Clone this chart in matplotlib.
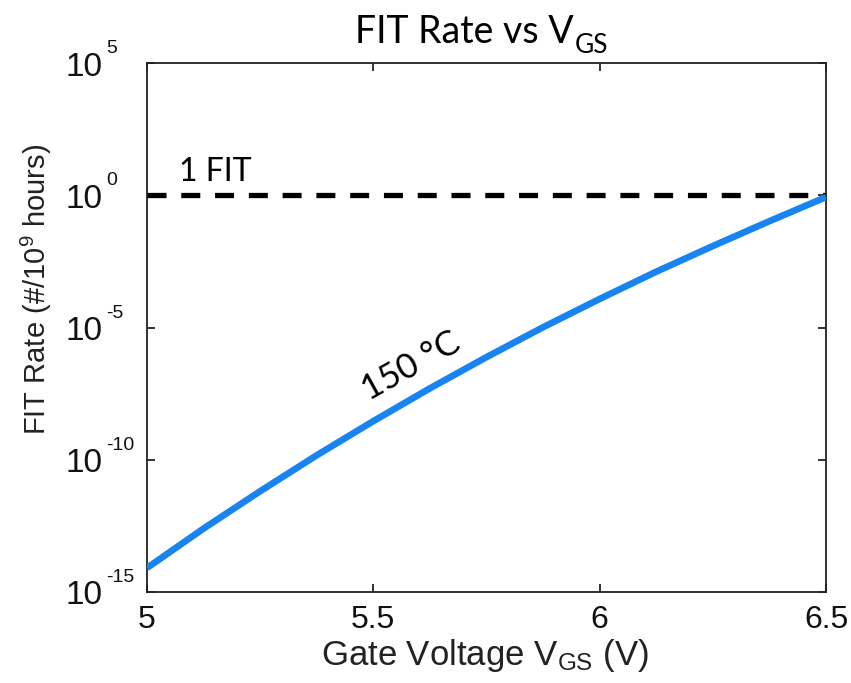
import matplotlib
matplotlib.use("Agg")
import matplotlib.pyplot as plt
import numpy as np

# FIT rate at 150 °C versus gate voltage (log10 of FIT per 1e9 hours)
vgs = [5.0, 5.125, 5.25, 5.375, 5.5, 5.625, 5.75, 5.875, 6.0, 6.125, 6.25, 6.375, 6.5]
log10_fit = [-14.09, -12.60, -11.19, -9.83, -8.54, -7.30, -6.12, -4.99, -3.92,
             -2.89, -1.92, -0.98, -0.07]
fit_rate = [10.0 ** v for v in log10_fit]

one_fit = 1.0
x_ticks = [5, 5.5, 6, 6.5]
x_tick_labels = ["5", "5.5", "6", "6.5"]
y_exponents = [-15, -10, -5, 0, 5]

plt.rcParams["font.family"] = ["Liberation Sans", "DejaVu Sans"]
plt.rcParams["mathtext.fontset"] = "custom"
plt.rcParams["mathtext.rm"] = "Liberation Sans"
plt.rcParams["mathtext.it"] = "Liberation Sans:italic"
plt.rcParams["mathtext.bf"] = "Liberation Sans:bold"

W, H = 851, 683
fig = plt.figure(figsize=(W / 100, H / 100), dpi=100)
ax = fig.add_axes([147 / W, 91 / H, 679 / W, 529 / H])

ax.plot(vgs, fit_rate, color="#1784f2", lw=4.8, solid_capstyle="butt",
        solid_joinstyle="round", zorder=3)
ax.plot([5, 6.5], [one_fit, one_fit], color="black", lw=3.8,
        ls=(0, (3.6, 2.8)), zorder=2)

ax.set_yscale("log")
ax.set_xlim(5, 6.5)
ax.set_ylim(1e-15, 1e5)
ax.set_xticks(x_ticks)
ax.set_xticklabels(x_tick_labels)
ax.set_yticks([10.0 ** e for e in y_exponents])
ax.set_yticklabels([])
ax.yaxis.set_minor_locator(matplotlib.ticker.NullLocator())

for s in ax.spines.values():
    s.set_linewidth(1.3)
    s.set_color("#222222")

ax.tick_params(axis="both", which="major", direction="in", length=6, width=1.2,
               top=True, right=True, labelsize=23, colors="#111111")
ax.tick_params(axis="x", pad=9)

# y tick labels as "10" with a small raised exponent
ytrans = ax.get_yaxis_transform()
for e in y_exponents:
    ax.annotate("10", xy=(0, 10.0 ** e), xycoords=ytrans,
                xytext=(-44, -12.5), textcoords="offset pixels",
                ha="right", va="baseline", fontsize=24, color="#111111")
    ax.annotate(str(e), xy=(0, 10.0 ** e), xycoords=ytrans,
                xytext=(-41, 10), textcoords="offset pixels",
                ha="left", va="baseline", fontsize=14, color="#111111")

fig.text(485 / W, 1 - 665 / H, r"Gate Voltage V$_{\mathrm{GS}}$ (V)",
         fontsize=25, color="#222222", ha="center", va="baseline")
fig.text(36 / W, 1 - 289 / H, r"FIT Rate (#/10$^{9}$ hours)", fontsize=21,
         color="#222222", ha="center", va="center", rotation=90)

label_font = ["Lato", "DejaVu Sans"]
ax.text(5.07, 3.4, "1 FIT", fontsize=23, family=label_font, ha="left",
        va="baseline", color="black")
ax.text(5.594, 10 ** -6.8, "150 °C", fontsize=25, family=label_font, rotation=29,
        rotation_mode="anchor", ha="center", va="baseline", color="black")

title_base = 43
title = fig.text(355 / W, 1 - title_base / H, "FIT Rate vs V", fontsize=27,
                 family=label_font, ha="left", va="baseline", color="black")
fig.canvas.draw()
tb = title.get_window_extent()
fig.text((tb.x1 + 1) / W, 1 - (title_base + 10) / H, "GS", fontsize=19,
         family=label_font, ha="left", va="baseline", color="black")

fig.savefig("out.png", dpi=100, facecolor="white")
